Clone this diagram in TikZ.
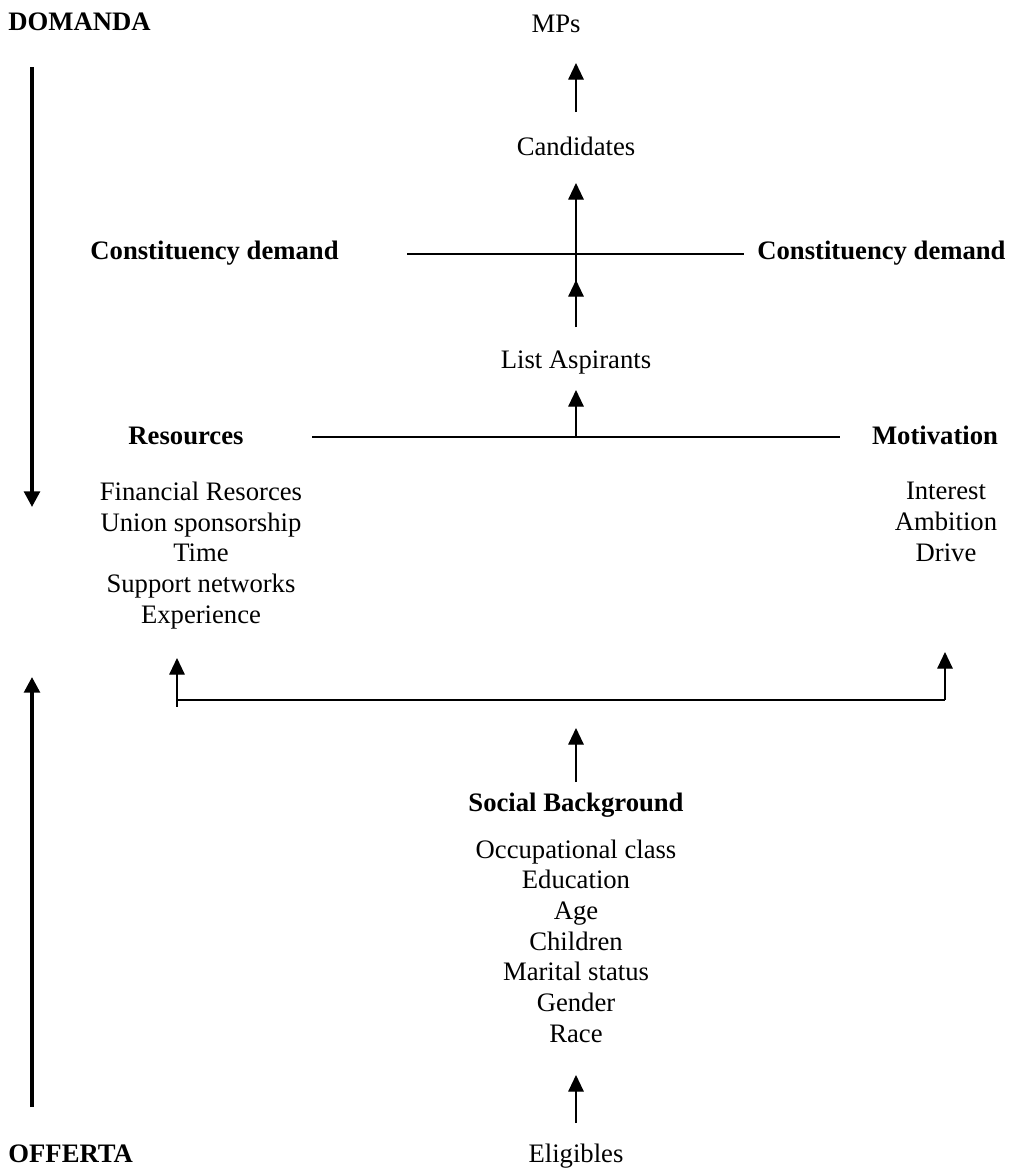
\documentclass[tikz,border=0pt]{standalone}
\usepackage{fontspec}
\setmainfont{Liberation Serif}
\usetikzlibrary{arrows.meta}
\begin{document}
\begin{tikzpicture}[x=0.45pt,y=-0.45pt,
  txt/.style={inner sep=0pt, font=\fontsize{12}{13.8}\selectfont, align=center, anchor=base},
  bld/.style={txt, font=\fontsize{12}{13.8}\selectfont\bfseries},
  arr/.style={line width=0.6pt, -{Triangle[width=7pt,length=7.5pt]}},
  bigarr/.style={line width=1.6pt, -{Triangle[width=7pt,length=7pt]}},
  hline/.style={line width=0.9pt}]
\useasboundingbox (0,0) rectangle (1011,1171);
% texts (multi-line nodes: base = baseline of last line)
\node[bld, anchor=base west] (dom) at (8,30) {DOMANDA};
\node[txt] (mps) at (556,32) {MPs};
\node[txt] (cand) at (576,155) {Candidates};
\node[bld, anchor=base west] (cdl) at (90,259) {Constituency demand};
\node[bld, anchor=base east] (cdr) at (1006,259) {Constituency demand};
\node[txt] (list) at (576,368) {List Aspirants};
\node[bld] (res) at (186,444) {Resources};
\node[bld] (mot) at (935,444) {Motivation};
\node[txt] (reslist) at (201,623) {Financial Resorces\\Union sponsorship\\Time\\Support networks\\Experience};
\node[txt] (motlist) at (946,561) {Interest\\Ambition\\Drive};
\node[bld] (soc) at (576,811) {Social Background};
\node[txt] (soclist) at (576,1042) {Occupational class\\Education\\Age\\Children\\Marital status\\Gender\\Race};
\node[txt] (elig) at (576,1162) {Eligibles};
\node[bld, anchor=base west] (off) at (8,1162) {OFFERTA};
% connector end points
\coordinate (dTop) at (32,67);
\coordinate (dTip) at (32,507);
\coordinate (oBot) at (32,1107);
\coordinate (oTip) at (32,677);
\coordinate (a1s) at (576,112);
\coordinate (a1e) at (576,63);
\coordinate (a2s) at (576,327);
\coordinate (a2e) at (576,183);
\coordinate (a3e) at (576,280);
\coordinate (cdL) at (407,254);
\coordinate (cdR) at (744,254);
\coordinate (rmL) at (312,437);
\coordinate (rmR) at (840,437);
\coordinate (a4s) at (576,437);
\coordinate (a4e) at (576,390);
\coordinate (a5s) at (576,782);
\coordinate (a5e) at (576,728);
\coordinate (a6s) at (576,1123);
\coordinate (a6e) at (576,1075);
\coordinate (bL) at (177,700);
\coordinate (bLtip) at (177,658);
\coordinate (bR) at (945,700);
\coordinate (bRtip) at (945,652);
% margin arrows
\draw[bigarr] (dTop) -- (dTip);
\draw[bigarr] (oBot) -- (oTip);
% central chain
\draw[arr] (a1s) -- (a1e);
\draw[arr] (a2s) -- (a2e);
\draw[arr] (a2s) -- (a3e);
\draw[hline] (cdL) -- (cdR);
\draw[hline] (rmL) -- (rmR);
\draw[arr] (a4s) -- (a4e);
\draw[arr] (a5s) -- (a5e);
\draw[arr] (a6s) -- (a6e);
% bracket
\draw[hline] (bL) -- (bR);
\draw[arr] ([yshift=-3]bL) -- (bLtip);
\draw[arr] (bR) -- (bRtip);
\end{tikzpicture}
\end{document}
